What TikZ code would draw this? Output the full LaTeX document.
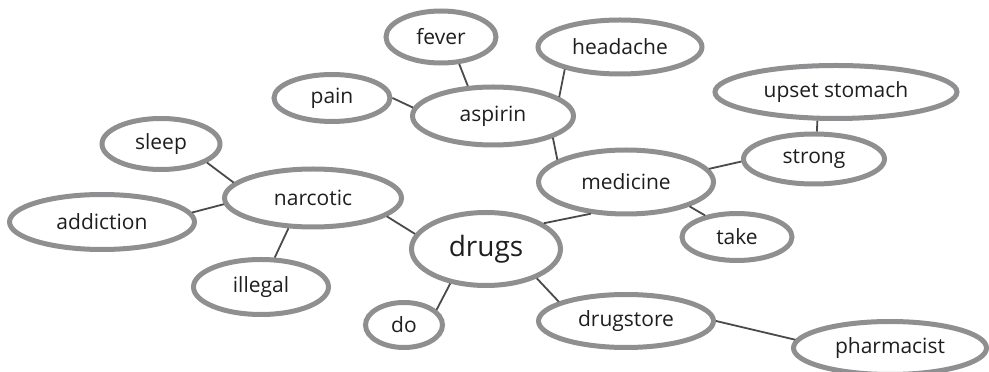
\documentclass[tikz,border=0pt]{standalone}
\usepackage{fontspec}
\setmainfont{Open Sans}
\usetikzlibrary{shapes.geometric}
\definecolor{ringgrey}{HTML}{8F8F91}
\definecolor{linkgrey}{HTML}{4A4A4A}
\definecolor{wordink}{HTML}{1E1E1E}
\begin{document}
\begin{tikzpicture}[x=1pt, y=1pt,
  bubble/.style={ellipse, draw=ringgrey, line width=5pt, inner sep=0pt, text=wordink, font=\fontsize{21}{21}\selectfont},
  link/.style={draw=linkgrey, line width=1.8pt}]
\useasboundingbox (0,0) rectangle (989,372);
\node[bubble, minimum width=110, minimum height=52] (fever) at (441,335){fever};
\node[bubble, minimum width=116, minimum height=47] (pain) at (332,274){pain};
\node[bubble, minimum width=161, minimum height=58] (aspirin) at (493,256){aspirin};
\node[bubble, minimum width=164, minimum height=54] (headache) at (620,325){headache};
\node[bubble, minimum width=242, minimum height=53] (upset) at (836,280){upset stomach};
\node[bubble, minimum width=141, minimum height=50] (strong) at (814,213){strong};
\node[bubble, minimum width=175, minimum height=64] (medicine) at (626,190){medicine};
\node[bubble, minimum width=110, minimum height=47] (take) at (737,135){take};
\node[bubble, minimum width=118, minimum height=51] (sleep) at (161,228){sleep};
\node[bubble, minimum width=177, minimum height=58] (narcotic) at (313,174){narcotic};
\node[bubble, minimum width=185, minimum height=55] (addiction) at (102,150){addiction};
\node[bubble, minimum width=135, minimum height=55] (illegal) at (261,85){illegal};
\node[bubble, minimum width=77, minimum height=45] (do) at (404,47){do};
\node[bubble, minimum width=149, minimum height=73, font=\fontsize{28}{28}\selectfont] (drugs) at (486,123){drugs};
\node[bubble, minimum width=175, minimum height=53] (drugstore) at (626,51){drugstore};
\node[bubble, minimum width=193, minimum height=53] (pharmacist) at (890,24){pharmacist};
\draw[link](fever.-56) -- (aspirin.130);
\draw[link](pain.0) -- (aspirin.174);
\draw[link](headache.202) -- (aspirin.16);
\draw[link](aspirin.-20) -- (medicine.162);
\draw[link](medicine.9) -- (strong.182);
\draw[link](upset.-123) -- (strong.84);
\draw[link](medicine.-21) -- (take.146);
\draw[link](drugs.24) -- (medicine.-138);
\draw[link](drugs.-30) -- (drugstore.164);
\draw[link](drugstore.0) -- (pharmacist.175);
\draw[link](drugs.224) -- (do.25);
\draw[link](narcotic.-14) -- (drugs.168);
\draw[link](narcotic.231) -- (illegal.65);
\draw[link](narcotic.184) -- (addiction.6);
\draw[link](sleep.-22) -- (narcotic.169);
\end{tikzpicture}
\end{document}
